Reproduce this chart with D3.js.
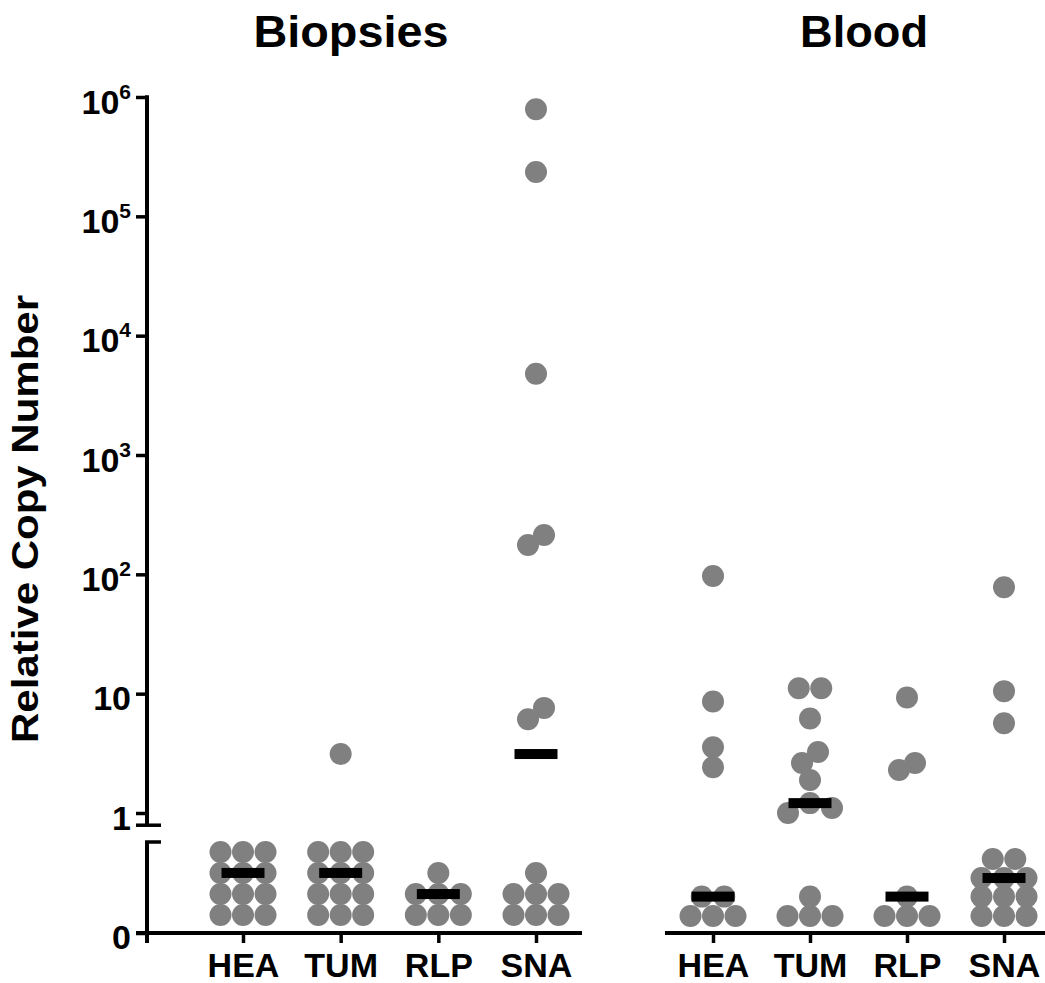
<!DOCTYPE html>
<html>
<head>
<meta charset="utf-8">
<script src="https://cdn.jsdelivr.net/npm/d3@7"></script>
<style>
  body { margin: 0; background: #fff; }
  text { font-family: "Liberation Sans", Arial, sans-serif; font-weight: bold; fill: #000; }
</style>
</head>
<body>
<svg id="chart" width="1045" height="983"></svg>
<script>
// categories and panels
var categories = ["HEA", "TUM", "RLP", "SNA"];
var panels = ["Biopsies", "Blood"];

// y ticks of the log part, and the linear part under the break
var logTicks = [1, 10, 100, 1000, 10000, 100000, 1000000];
var linTicks = [0];

// Biopsies, values (values under 0.5 sit on the linear part)
var biopsiesHEA = [0.445, 0.445, 0.445, 0.33, 0.33, 0.33, 0.214, 0.214, 0.214, 0.099, 0.099, 0.099];
var biopsiesTUM = [3.12, 0.445, 0.445, 0.445, 0.33, 0.33, 0.33, 0.214, 0.214, 0.214, 0.099, 0.099, 0.099];
var biopsiesRLP = [0.33, 0.214, 0.214, 0.214, 0.099, 0.099, 0.099];
var biopsiesSNA = [790000, 235000, 4800, 214, 176, 7.6, 6.1, 0.33, 0.214, 0.214, 0.214, 0.099, 0.099, 0.099];
var biopsiesMedian = [0.33, 0.33, 0.214, 3.12];

// Blood
var bloodHEA = [97, 8.6, 3.55, 2.42, 0.2, 0.2, 0.093, 0.093, 0.093];
var bloodTUM = [11.1, 11.1, 6.2, 3.24, 2.62, 1.89, 1.21, 1.1, 1.0, 0.2, 0.093, 0.093, 0.093];
var bloodRLP = [9.3, 2.62, 2.29, 0.2, 0.093, 0.093, 0.093];
var bloodSNA = [78, 10.5, 5.65, 0.407, 0.407, 0.302, 0.302, 0.302, 0.2, 0.2, 0.2, 0.093, 0.093, 0.093];
var bloodMedian = [0.2, 1.21, 0.2, 0.302];

var svg = d3.select("#chart");

var yLog = d3.scaleLog().domain([1, 1000000]).range([813, 97]);
var yLin = d3.scaleLinear().domain([0, 0.5]).range([933, 842]);
function y(v) { return v >= 0.5 ? yLog(v) : yLin(v); }

var xLeft = d3.scalePoint().domain(categories).range([243, 536]);
var xRight = d3.scalePoint().domain(categories).range([713, 1004]);

var dotR = 11;

// spread dots that would overlap side by side (like prism does)
function spread(values, cx) {
    var pts = values.map(function(v) { return {v: v, y: y(v)}; })
                    .sort(function(a, b) { return b.v - a.v; });
    var clusters = [];
    pts.forEach(function(p) {
        var last = clusters[clusters.length - 1];
        if (last && Math.abs(last[last.length - 1].y - p.y) < 14) last.push(p);
        else clusters.push([p]);
    });
    clusters.forEach(function(c) {
        var n = c.length;
        var same = c.every(function(p) { return p.v === c[0].v; });
        var step = same ? 22.5 : (n > 2 ? 22 : 16);
        c.forEach(function(p, i) {
            var slot;
            if (n % 2) {
                var k = Math.ceil(i / 2);
                slot = i === 0 ? 0 : (i % 2 ? k : -k);
            } else {
                var k2 = Math.floor(i / 2) + 0.5;
                slot = i % 2 ? -k2 : k2;
            }
            p.x = cx + slot * step;
        });
    });
    return pts;
}

function drawGroup(values, median, cx) {
    svg.append("g").selectAll("circle")
       .data(spread(values, cx))
       .enter().append("circle")
       .attr("cx", function(d) { return d.x; })
       .attr("cy", function(d) { return d.y; })
       .attr("r", dotR)
       .style("fill", "#808080");
    svg.append("rect")
       .attr("x", cx - 21.5)
       .attr("y", y(median) - 5)
       .attr("width", 43)
       .attr("height", 10)
       .style("fill", "#000");
}

var leftData = [biopsiesHEA, biopsiesTUM, biopsiesRLP, biopsiesSNA];
var rightData = [bloodHEA, bloodTUM, bloodRLP, bloodSNA];
categories.forEach(function(c, i) {
    drawGroup(leftData[i], biopsiesMedian[i], xLeft(c));
    drawGroup(rightData[i], bloodMedian[i], xRight(c));
});

// y axis, log part
var axisX = 147;
var gy = svg.append("g")
    .attr("transform", "translate(" + axisX + ",0)")
    .call(d3.axisLeft(yLog).tickValues(logTicks).tickSize(11).tickSizeOuter(0).tickPadding(5).tickFormat(function() { return ""; }));
gy.select(".domain").remove();
gy.selectAll(".tick line").style("stroke-width", 3.5);
gy.selectAll(".tick text")
  .attr("dy", 16)
  .style("font-size", "34px")
  .each(function(d) {
      var t = d3.select(this);
      var e = Math.round(Math.log10(d));
      if (e <= 1) {
          t.text(d);
      } else {
          t.append("tspan").text("10");
          t.append("tspan").attr("dy", -15).style("font-size", "21px").text(e);
      }
  });

// y axis, linear part under the break
var gy2 = svg.append("g")
    .attr("transform", "translate(" + axisX + ",0)")
    .call(d3.axisLeft(yLin).tickValues(linTicks).tickSize(11).tickSizeOuter(0).tickPadding(5).tickFormat(d3.format("d")));
gy2.select(".domain").remove();
gy2.selectAll(".tick line").style("stroke-width", 3.5);
gy2.selectAll(".tick text").attr("dy", 15).style("font-size", "34px");

// axis lines with the break
svg.append("line").attr("x1", axisX).attr("x2", axisX)
   .attr("y1", yLog(1000000) - 1.75).attr("y2", yLog(0.79))
   .style("stroke", "#000").style("stroke-width", 4);
svg.append("line").attr("x1", axisX - 11).attr("x2", axisX + 14)
   .attr("y1", yLog(0.79)).attr("y2", yLog(0.79))
   .style("stroke", "#000").style("stroke-width", 3.5);
svg.append("line").attr("x1", axisX).attr("x2", axisX)
   .attr("y1", yLin(0.5)).attr("y2", yLin(0) + 10)
   .style("stroke", "#000").style("stroke-width", 4);
svg.append("line").attr("x1", axisX - 2).attr("x2", axisX + 14)
   .attr("y1", yLin(0.5)).attr("y2", yLin(0.5))
   .style("stroke", "#000").style("stroke-width", 3.5);

// x axes
function xAxis(scale, x0, x1) {
    var g = svg.append("g")
        .attr("transform", "translate(0," + yLin(0) + ")")
        .call(d3.axisBottom(scale).tickSize(10).tickSizeOuter(0).tickPadding(10));
    g.select(".domain").remove();
    g.selectAll(".tick line").style("stroke-width", 3.5);
    g.selectAll(".tick text").style("font-size", "34px");
    svg.append("line").attr("x1", x0).attr("x2", x1)
       .attr("y1", yLin(0)).attr("y2", yLin(0))
       .style("stroke", "#000").style("stroke-width", 4);
}
xAxis(xLeft, axisX - 11, 582);
xAxis(xRight, 665, 1045);

// titles
svg.append("text").attr("x", 351).attr("y", 47).attr("text-anchor", "middle")
   .style("font-size", "44px").attr("textLength", 195).attr("lengthAdjust", "spacingAndGlyphs")
   .text(panels[0]);
svg.append("text").attr("x", 864).attr("y", 47).attr("text-anchor", "middle")
   .style("font-size", "44px").attr("textLength", 128).attr("lengthAdjust", "spacingAndGlyphs")
   .text(panels[1]);

// y label
svg.append("text")
   .attr("transform", "translate(38,519) rotate(-90)")
   .attr("text-anchor", "middle")
   .style("font-size", "36px").attr("textLength", 448).attr("lengthAdjust", "spacingAndGlyphs")
   .text("Relative Copy Number");
</script>
</body>
</html>
